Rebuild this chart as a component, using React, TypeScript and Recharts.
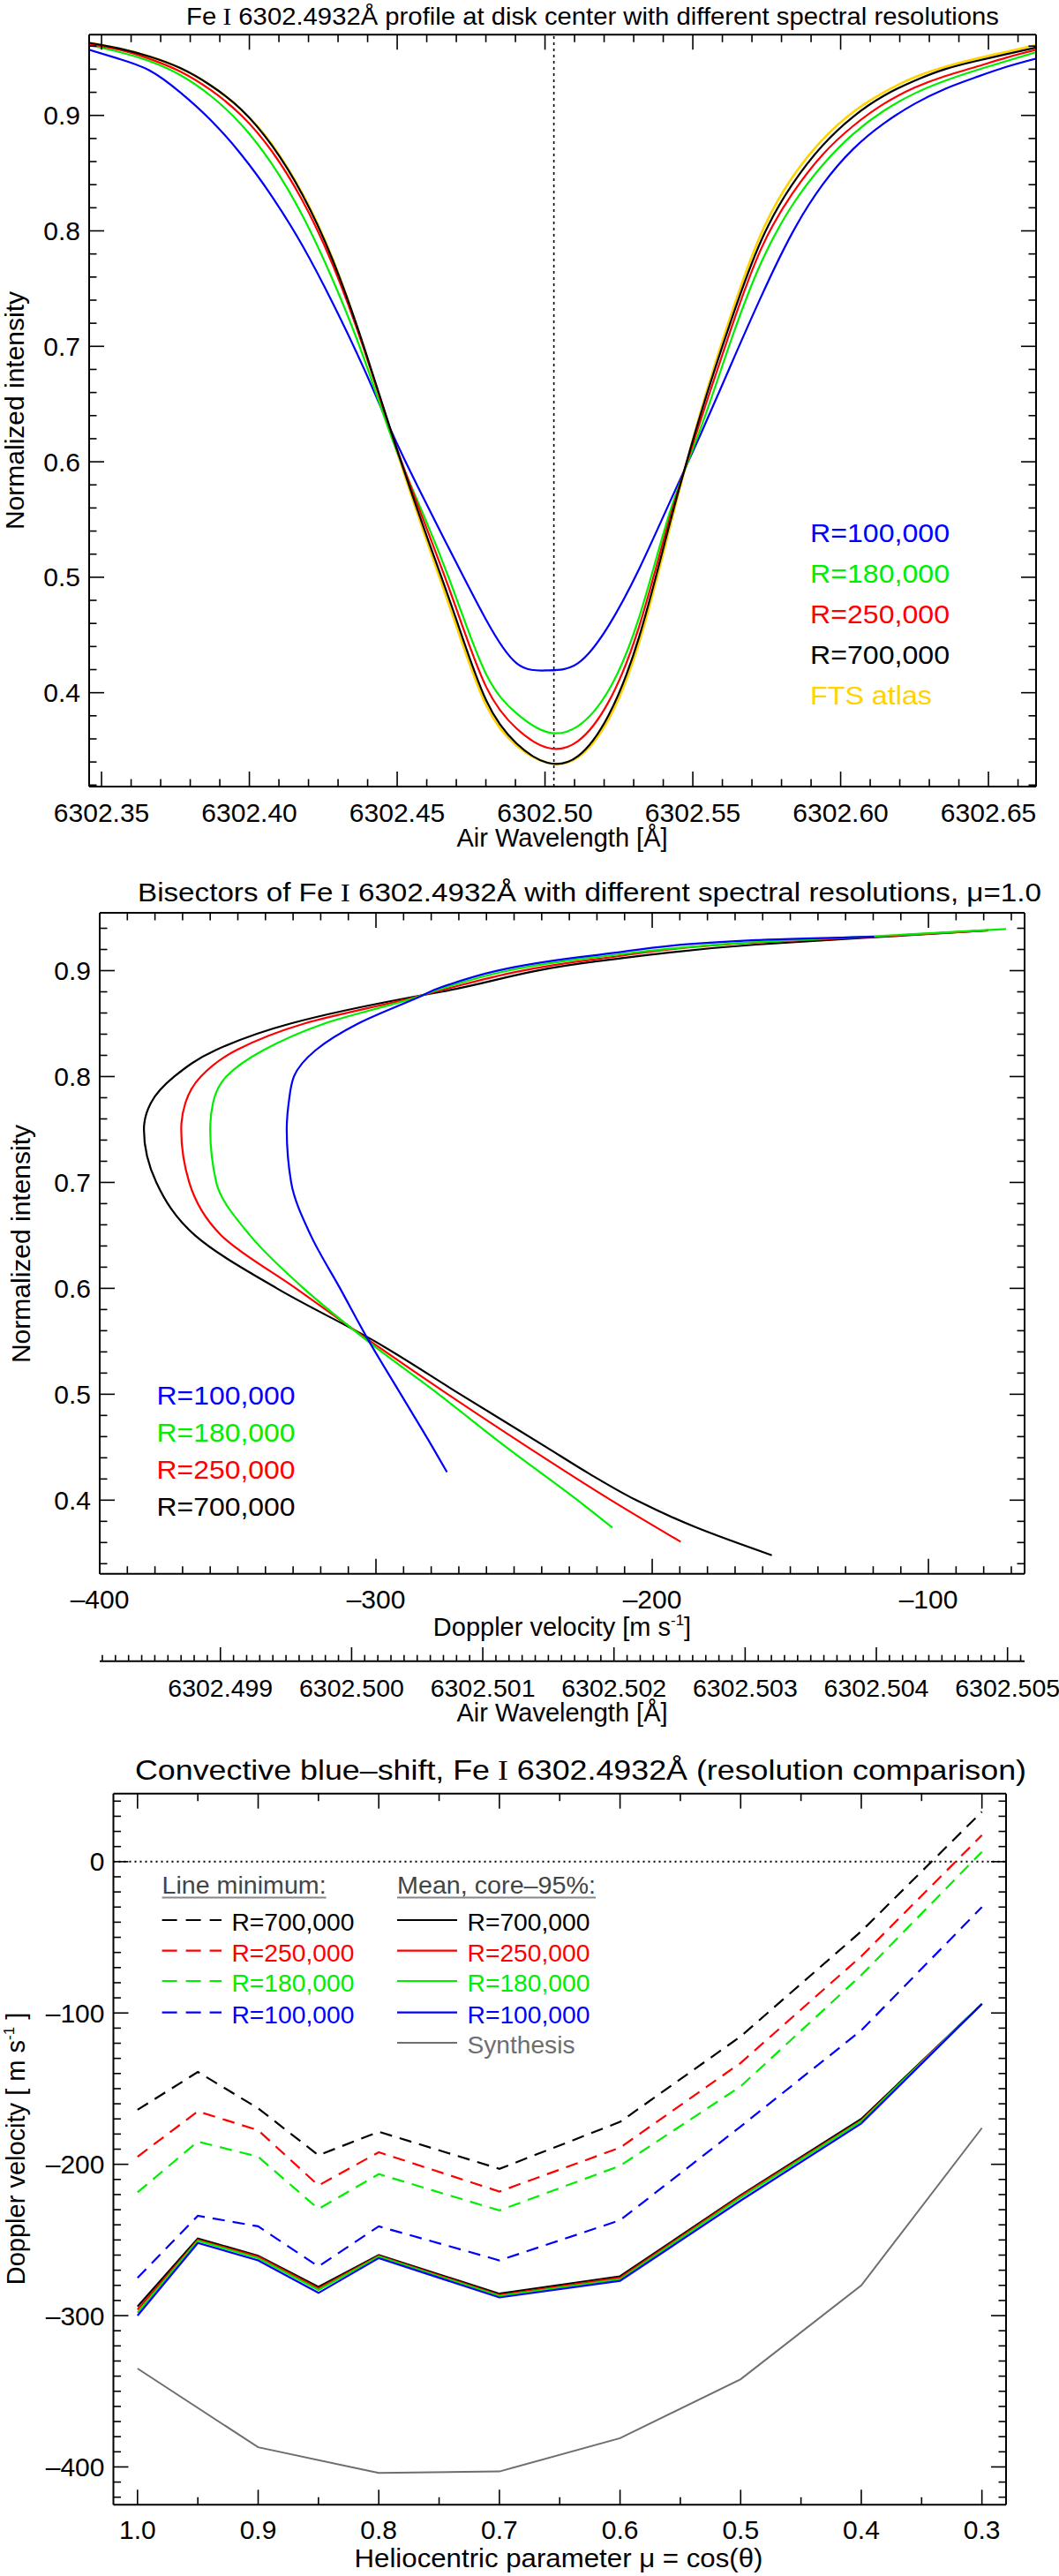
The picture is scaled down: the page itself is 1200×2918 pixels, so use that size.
import React from 'react'
import { LineChart, Line, XAxis, YAxis, ReferenceLine } from 'recharts'

const FONT = '"Liberation Sans", Arial, Helvetica, sans-serif'
const SERIF = '"Liberation Serif", "DejaVu Serif", serif'

const BLUE = '#0000ff'
const GREEN = '#00ee00'
const RED = '#ff0000'
const BLACK = '#000000'
const GOLD = '#ffd200'
const GREY = '#6e6e6e'

// ---- panel 1: line profiles at disk center
// air wavelength (Å)
const wavelength = [
  6302.3455, 6302.3559, 6302.3662, 6302.3766, 6302.3869, 6302.3973, 6302.4076, 6302.418,
  6302.4283, 6302.4387, 6302.449, 6302.4594, 6302.4697, 6302.4801, 6302.4904, 6302.5008,
  6302.5111, 6302.5215, 6302.5318, 6302.5422, 6302.5525, 6302.5629, 6302.5732, 6302.5836,
  6302.5939, 6302.6043, 6302.6146, 6302.625, 6302.6353, 6302.6457, 6302.656, 6302.6664,
]
// normalized intensity for each resolution
const intR100 = [
  0.957, 0.949, 0.939, 0.92, 0.896, 0.866, 0.83, 0.787, 0.737, 0.681, 0.621, 0.566, 0.514, 0.463,
  0.4255, 0.4193, 0.4255, 0.458, 0.507, 0.565, 0.623, 0.684, 0.7435, 0.798, 0.84, 0.871, 0.893,
  0.91, 0.923, 0.933, 0.942, 0.9494,
]
const intR180 = [
  0.961, 0.955, 0.947, 0.935, 0.917, 0.892, 0.858, 0.813, 0.757, 0.69, 0.615, 0.551, 0.484, 0.416,
  0.382, 0.3658, 0.371, 0.402, 0.465, 0.556, 0.628, 0.705, 0.773, 0.822, 0.857, 0.884, 0.904,
  0.919, 0.93, 0.939, 0.947, 0.955,
]
const intR250 = [
  0.962, 0.957, 0.949, 0.938, 0.922, 0.9, 0.869, 0.826, 0.77, 0.698, 0.618, 0.546, 0.475, 0.405,
  0.369, 0.3523, 0.358, 0.392, 0.457, 0.551, 0.635, 0.715, 0.785, 0.832, 0.866, 0.891, 0.91,
  0.924, 0.934, 0.942, 0.95, 0.957,
]
const intR700 = [
  0.963, 0.958, 0.951, 0.941, 0.926, 0.905, 0.874, 0.831, 0.774, 0.7, 0.618, 0.54, 0.4656, 0.3934,
  0.356, 0.3393, 0.345, 0.3805, 0.448, 0.5465, 0.64, 0.722, 0.792, 0.84, 0.874, 0.899, 0.917,
  0.93, 0.94, 0.947, 0.953, 0.959,
]
const intFts = [
  0.963, 0.958, 0.951, 0.941, 0.926, 0.905, 0.875, 0.832, 0.775, 0.699, 0.616, 0.536, 0.46, 0.389,
  0.354, 0.3393, 0.344, 0.377, 0.443, 0.543, 0.642, 0.727, 0.798, 0.846, 0.879, 0.903, 0.92,
  0.933, 0.942, 0.949, 0.955, 0.961,
]
const lineCenter = 6302.503

// ---- panel 2: bisectors, [doppler velocity m/s, normalized intensity]
const bisR100: [number, number][] = [
  [-274.3, 0.4265], [-279.5, 0.45], [-291, 0.5], [-302.5, 0.55], [-313, 0.6], [-323.6, 0.65],
  [-330.7, 0.7], [-332.3, 0.75], [-331.6, 0.775], [-329.7, 0.8], [-321.8, 0.825], [-306.5, 0.85],
  [-284.5, 0.875], [-276.4, 0.8843], [-219.4, 0.9149], [-162.4, 0.9288], [-119.6, 0.932],
]
const bisR180: [number, number][] = [
  [-214.4, 0.374], [-227, 0.4], [-252.8, 0.45], [-277.3, 0.5], [-302.9, 0.55], [-326.2, 0.6],
  [-345.6, 0.65], [-357.8, 0.7], [-360, 0.75], [-359, 0.775], [-354.2, 0.8], [-340.7, 0.825],
  [-318.7, 0.85], [-285.2, 0.875], [-276.4, 0.8829], [-219.4, 0.913], [-162.4, 0.927],
  [-119.6, 0.9325], [-71.9, 0.9393],
]
const bisR250: [number, number][] = [
  [-189.7, 0.3607], [-214.9, 0.4], [-245, 0.45], [-274, 0.5], [-302, 0.55], [-329, 0.6],
  [-356, 0.65], [-367.6, 0.7], [-370.5, 0.75], [-369, 0.775], [-363.4, 0.8], [-350.5, 0.825],
  [-326, 0.85], [-285.8, 0.875], [-276.4, 0.8815], [-219.4, 0.9112], [-162.4, 0.9265],
  [-119.6, 0.932], [-78.3, 0.938],
]
const bisR700: [number, number][] = [
  [-156.7, 0.348], [-184.8, 0.375], [-205.8, 0.4], [-222.8, 0.425], [-238.3, 0.45], [-269.5, 0.5],
  [-300.4, 0.55], [-335.9, 0.6], [-365.5, 0.65], [-379.5, 0.7], [-384, 0.75], [-381.5, 0.775],
  [-373, 0.8], [-358, 0.825], [-331, 0.85], [-287, 0.875], [-276.4, 0.88], [-219.4, 0.909],
  [-162.4, 0.9246], [-119.6, 0.9315], [-78.3, 0.938],
]

// ---- panel 3: convective blue-shift vs mu
const mu = [1.0, 0.95, 0.9, 0.85, 0.8, 0.7, 0.6, 0.5, 0.4, 0.3]
const minR700 = [-164, -139, -163, -194, -178.5, -203, -172, -115.5, -46, 33]
const minR250 = [-195, -165, -177.5, -214, -192, -218, -189, -133, -62.5, 17.5]
const minR180 = [-218.5, -185, -195, -229.5, -206.5, -230.5, -201, -148.5, -75, 6.5]
const minR100 = [-275, -234, -241, -267.5, -241, -263.5, -237, -175, -111.5, -30]
const meanR700 = [-294, -249, -260.5, -281, -260, -285.5, -274, -220.5, -170, -94]
const meanR250 = [-296, -250, -261, -282, -260.5, -286.5, -275, -221, -171, -94]
const meanR180 = [-298, -250.5, -262, -283, -261, -287, -276, -222, -171.5, -94]
const meanR100 = [-300, -252, -263.5, -285, -262, -288, -277, -224, -173, -94]
const synthesis = [-335, null, -387, null, -404, -403, -381, -342, -280, -176]

// tick labels
const p1XMajor = [6302.35, 6302.4, 6302.45, 6302.5, 6302.55, 6302.6, 6302.65]
const p1YMajor = [0.4, 0.5, 0.6, 0.7, 0.8, 0.9]
const p2XMajor = [-400, -300, -200, -100]
const p2WlMajor = [6302.499, 6302.5, 6302.501, 6302.502, 6302.503, 6302.504, 6302.505]
const p2YMajor = [0.4, 0.5, 0.6, 0.7, 0.8, 0.9]
const p3XMajor = [1.0, 0.9, 0.8, 0.7, 0.6, 0.5, 0.4, 0.3]
const p3YMajor = [0, -100, -200, -300, -400]

const steps = (from: number, to: number, step: number) => {
  const out: number[] = []
  const n = Math.round((to - from) / step)
  for (let i = 0; i <= n; i++) out.push(+(from + i * step).toFixed(6))
  return out
}

const toPts = (arr: [number, number][]) => arr.map(([x, y]) => ({ x, y }))
const profile = (ints: number[]) => wavelength.map((x, i) => ({ x, y: ints[i] }))

const p3Data = mu.map((m, i) => ({
  x: m,
  minR700: minR700[i],
  minR250: minR250[i],
  minR180: minR180[i],
  minR100: minR100[i],
  meanR700: meanR700[i],
  meanR250: meanR250[i],
  meanR180: meanR180[i],
  meanR100: meanR100[i],
  synthesis: synthesis[i],
}))

type Side = 'bottom' | 'top' | 'left' | 'right'

const dash = (v: number, d = 0) => (v < 0 ? '\u2013' + Math.abs(v).toFixed(d) : v.toFixed(d))

function tickMark(side: Side, majors: number[], fmt?: (v: number) => string, big = 17, small = 8.5, off = 39.5, fs = 30) {
  return (props: any) => {
    const { x, y, payload } = props
    const v = payload.value
    const major = majors.some((m) => Math.abs(m - v) < 1e-7)
    const len = major ? big : small
    let x2 = x
    let y2 = y
    if (side === 'bottom') y2 = y - len
    if (side === 'top') y2 = y + len
    if (side === 'left') x2 = x + len
    if (side === 'right') x2 = x - len
    return (
      <g>
        <line x1={x} y1={y} x2={x2} y2={y2} stroke="#000" strokeWidth={1.6} />
        {major && fmt && side === 'bottom' && (
          <text x={x} y={y + off} textAnchor="middle" fontFamily={FONT} fontSize={fs} fill="#000">
            {fmt(v)}
          </text>
        )}
        {major && fmt && side === 'left' && (
          <text x={x - 10} y={y + 10.5} textAnchor="end" fontFamily={FONT} fontSize={fs} fill="#000">
            {fmt(v)}
          </text>
        )}
      </g>
    )
  }
}

const axisBase = {
  type: 'number' as const,
  allowDataOverflow: true,
  interval: 0 as const,
  tickLine: false,
  tickSize: 0,
  tickMargin: 0,
  axisLine: { stroke: '#000', strokeWidth: 2 },
}

const lineBase = { dot: false, isAnimationActive: false, strokeWidth: 2.2 }

function ProfilePanel() {
  const xDom: [number, number] = [6302.3458, 6302.6661]
  const yDom: [number, number] = [0.3187, 0.9699]
  const xt = steps(6302.35, 6302.66, 0.01)
  const yt = steps(0.32, 0.96, 0.02)
  return (
    <LineChart width={1200} height={980} margin={{ top: 0, right: 0, bottom: 0, left: 0 }}>
      <XAxis {...axisBase} xAxisId="b" orientation="bottom" dataKey="x" height={89} domain={xDom} ticks={xt}
        tick={tickMark('bottom', p1XMajor, (v) => v.toFixed(2), 17, 8.5, 40)} />
      <XAxis {...axisBase} xAxisId="t" orientation="top" dataKey="x" height={39.3} domain={xDom} ticks={xt}
        tick={tickMark('top', p1XMajor)} />
      <YAxis {...axisBase} yAxisId="l" orientation="left" width={101} domain={yDom} ticks={yt}
        tick={tickMark('left', p1YMajor, (v) => v.toFixed(1))} />
      <YAxis {...axisBase} yAxisId="r" orientation="right" width={26} domain={yDom} ticks={yt}
        tick={tickMark('right', p1YMajor)} />
      <ReferenceLine xAxisId="b" yAxisId="l" x={lineCenter} stroke="#000" strokeWidth={1.6} strokeDasharray="3 4" />
      <Line {...lineBase} xAxisId="t" yAxisId="r" type="natural" data={profile(intFts)} dataKey="y" stroke={GOLD} strokeWidth={2.6} />
      <Line {...lineBase} xAxisId="b" yAxisId="l" type="natural" data={profile(intR100)} dataKey="y" stroke={BLUE} />
      <Line {...lineBase} xAxisId="b" yAxisId="l" type="natural" data={profile(intR180)} dataKey="y" stroke={GREEN} />
      <Line {...lineBase} xAxisId="b" yAxisId="l" type="natural" data={profile(intR250)} dataKey="y" stroke={RED} />
      <Line {...lineBase} xAxisId="b" yAxisId="l" type="natural" data={profile(intR700)} dataKey="y" stroke={BLACK} />
    </LineChart>
  )
}

function BisectorPanel() {
  const xDom: [number, number] = [-400, -65.2]
  const wlDom: [number, number] = [6302.49808, 6302.50513]
  const yDom: [number, number] = [0.3305, 0.9546]
  const xt = steps(-400, -70, 10)
  const wt = steps(6302.4981, 6302.5051, 0.0001)
  const yt = steps(0.34, 0.94, 0.02)
  return (
    <LineChart width={1200} height={960} margin={{ top: 0, right: 0, bottom: 0, left: 0 }}>
      <XAxis {...axisBase} xAxisId="b" orientation="bottom" dataKey="x" height={99} domain={xDom} ticks={xt}
        tick={tickMark('bottom', p2XMajor, (v) => dash(v), 17, 8.5, 39.5)} />
      <XAxis {...axisBase} xAxisId="wl" orientation="bottom" dataKey="x" height={78.3} domain={wlDom} ticks={wt}
        tick={tickMark('bottom', p2WlMajor, (v) => v.toFixed(3), 15.7, 7, 40, 28.5)} />
      <XAxis {...axisBase} xAxisId="t" orientation="top" dataKey="x" height={34} domain={xDom} ticks={xt}
        tick={tickMark('top', p2XMajor)} />
      <YAxis {...axisBase} yAxisId="l" orientation="left" width={113} domain={yDom} ticks={yt}
        tick={tickMark('left', p2YMajor, (v) => v.toFixed(1))} />
      <YAxis {...axisBase} yAxisId="r" orientation="right" width={39} domain={yDom} ticks={yt}
        tick={tickMark('right', p2YMajor)} />
      <Line {...lineBase} xAxisId="t" yAxisId="r" type="monotoneY" data={toPts(bisR700)} dataKey="y" stroke={BLACK} />
      <Line {...lineBase} xAxisId="b" yAxisId="l" type="monotoneY" data={toPts(bisR250)} dataKey="y" stroke={RED} />
      <Line {...lineBase} xAxisId="b" yAxisId="l" type="monotoneY" data={toPts(bisR180)} dataKey="y" stroke={GREEN} />
      <Line {...lineBase} xAxisId="b" yAxisId="l" type="monotoneY" data={toPts(bisR100)} dataKey="y" stroke={BLUE} />
    </LineChart>
  )
}

function ShiftPanel() {
  const xDom: [number, number] = [0.28, 1.02]
  const yDom: [number, number] = [-425, 45]
  const xt = steps(0.3, 1.0, 0.05)
  const yt = steps(-420, 40, 10)
  const dashed = '14 9'
  return (
    <LineChart width={1200} height={958} data={p3Data} margin={{ top: 0, right: 0, bottom: 0, left: 0 }}>
      <XAxis {...axisBase} xAxisId="b" orientation="bottom" dataKey="x" reversed height={80.7} domain={xDom} ticks={xt}
        tick={tickMark('bottom', p3XMajor, (v) => v.toFixed(1), 17, 8.5, 39)} />
      <XAxis {...axisBase} xAxisId="t" orientation="top" dataKey="x" reversed height={71.7} domain={xDom} ticks={xt}
        tick={tickMark('top', p3XMajor)} />
      <YAxis {...axisBase} yAxisId="l" orientation="left" width={128.5} domain={yDom} ticks={yt}
        tick={tickMark('left', p3YMajor, (v) => dash(v))} />
      <YAxis {...axisBase} yAxisId="r" orientation="right" width={60} domain={yDom} ticks={yt}
        tick={tickMark('right', p3YMajor)} />
      <ReferenceLine xAxisId="b" yAxisId="l" y={0} stroke="#000" strokeWidth={2} strokeDasharray="2 4" />
      <Line {...lineBase} xAxisId="t" yAxisId="r" type="linear" dataKey="synthesis" stroke={GREY} strokeWidth={2} connectNulls />
      <Line {...lineBase} xAxisId="b" yAxisId="l" type="linear" dataKey="minR700" stroke={BLACK} strokeDasharray={dashed} />
      <Line {...lineBase} xAxisId="b" yAxisId="l" type="linear" dataKey="minR250" stroke={RED} strokeDasharray={dashed} />
      <Line {...lineBase} xAxisId="b" yAxisId="l" type="linear" dataKey="minR180" stroke={GREEN} strokeDasharray={dashed} />
      <Line {...lineBase} xAxisId="b" yAxisId="l" type="linear" dataKey="minR100" stroke={BLUE} strokeDasharray={dashed} />
      <Line {...lineBase} xAxisId="b" yAxisId="l" type="linear" dataKey="meanR700" stroke={BLACK} />
      <Line {...lineBase} xAxisId="b" yAxisId="l" type="linear" dataKey="meanR250" stroke={RED} />
      <Line {...lineBase} xAxisId="b" yAxisId="l" type="linear" dataKey="meanR180" stroke={GREEN} />
      <Line {...lineBase} xAxisId="b" yAxisId="l" type="linear" dataKey="meanR100" stroke={BLUE} />
    </LineChart>
  )
}

const legend1 = [
  { label: 'R=100,000', color: BLUE },
  { label: 'R=180,000', color: GREEN },
  { label: 'R=250,000', color: RED },
  { label: 'R=700,000', color: BLACK },
  { label: 'FTS atlas', color: GOLD },
]
const legend2 = legend1.slice(0, 4)
const legend3 = [
  { label: 'R=700,000', color: BLACK },
  { label: 'R=250,000', color: RED },
  { label: 'R=180,000', color: GREEN },
  { label: 'R=100,000', color: BLUE },
]

function Overlay() {
  const t = { fontFamily: FONT, fill: '#000' }
  const rowsY = [2187, 2221.7, 2256, 2291.7]
  return (
    <svg width={1200} height={2918} style={{ position: 'absolute', left: 0, top: 0, pointerEvents: 'none' }}>
      {/* panel 1 */}
      <text {...t} x={211} y={27.5} fontSize={28} textLength={921} lengthAdjust="spacingAndGlyphs">
        Fe<tspan fontFamily={SERIF}> I</tspan> 6302.4932Å profile at disk center with different spectral resolutions
      </text>
      <text {...t} x={27} y={465} fontSize={30} textAnchor="middle" transform="rotate(-90 27 465)">
        Normalized intensity
      </text>
      <text {...t} x={637} y={959} fontSize={29} textAnchor="middle">Air Wavelength [Å]</text>
      {legend1.map((l, i) => (
        <text key={l.label} x={918} y={614 + i * 46} fontFamily={FONT} fontSize={30} fill={l.color}
          textLength={l.label === 'FTS atlas' ? 138 : 158} lengthAdjust="spacingAndGlyphs">
          {l.label}
        </text>
      ))}

      {/* panel 2 */}
      <text {...t} x={156} y={1021} fontSize={29} textLength={1024} lengthAdjust="spacingAndGlyphs">
        Bisectors of Fe<tspan fontFamily={SERIF}> I</tspan> 6302.4932Å with different spectral resolutions, μ=1.0
      </text>
      <text {...t} x={34} y={1409} fontSize={30} textAnchor="middle" transform="rotate(-90 34 1409)">
        Normalized intensity
      </text>
      <text {...t} x={637} y={1853} fontSize={29} textAnchor="middle">
        Doppler velocity [m s<tspan fontSize={17} dy={-12}>-1</tspan><tspan dy={12}>]</tspan>
      </text>
      <text {...t} x={637} y={1950} fontSize={29} textAnchor="middle">Air Wavelength [Å]</text>
      {legend2.map((l, i) => (
        <text key={l.label} x={177.5} y={1591 + i * 42} fontFamily={FONT} fontSize={30} fill={l.color}
          textLength={157} lengthAdjust="spacingAndGlyphs">
          {l.label}
        </text>
      ))}

      {/* panel 3 */}
      <text {...t} x={153} y={2016} fontSize={32} textLength={1010} lengthAdjust="spacingAndGlyphs">
        Convective blue–shift, Fe<tspan fontFamily={SERIF}> I</tspan> 6302.4932Å (resolution comparison)
      </text>
      <text {...t} x={28} y={2434} fontSize={29} textAnchor="middle" transform="rotate(-90 28 2434)">
        Doppler velocity [ m s<tspan fontSize={17} dy={-12}>-1</tspan><tspan dy={12}> ]</tspan>
      </text>
      <text {...t} x={633} y={2908} fontSize={30} textAnchor="middle" textLength={463} lengthAdjust="spacingAndGlyphs">
        Heliocentric parameter μ = cos(θ)
      </text>

      <text x={183.6} y={2145} fontFamily={FONT} fontSize={28} fill="#444" textLength={186} lengthAdjust="spacingAndGlyphs">
        Line minimum:
      </text>
      <line x1={183.6} x2={369.6} y1={2149.5} y2={2149.5} stroke="#888" strokeWidth={2} />
      <text x={450} y={2145} fontFamily={FONT} fontSize={28} fill="#444" textLength={225} lengthAdjust="spacingAndGlyphs">
        Mean, core–95%:
      </text>
      <line x1={450} x2={675} y1={2149.5} y2={2149.5} stroke="#888" strokeWidth={2} />
      {legend3.map((l, i) => (
        <g key={l.label}>
          <line x1={183.6} x2={251} y1={rowsY[i] - 12} y2={rowsY[i] - 12} stroke={l.color} strokeWidth={2.2} strokeDasharray="17 10" />
          <text x={262.4} y={rowsY[i]} fontFamily={FONT} fontSize={28} fill={l.color} textLength={139} lengthAdjust="spacingAndGlyphs">
            {l.label}
          </text>
          <line x1={450} x2={518} y1={rowsY[i] - 12} y2={rowsY[i] - 12} stroke={l.color} strokeWidth={2.2} />
          <text x={529.5} y={rowsY[i]} fontFamily={FONT} fontSize={28} fill={l.color} textLength={139} lengthAdjust="spacingAndGlyphs">
            {l.label}
          </text>
        </g>
      ))}
      <line x1={450} x2={518} y1={2314} y2={2314} stroke={GREY} strokeWidth={2.2} />
      <text x={529.5} y={2326} fontFamily={FONT} fontSize={28} fill={GREY} textLength={122} lengthAdjust="spacingAndGlyphs">
        Synthesis
      </text>
    </svg>
  )
}

export default function App() {
  return (
    <div style={{ position: 'absolute', left: 0, top: 0, width: 1200, height: 2918, background: '#fff', fontFamily: FONT }}>
      <div style={{ position: 'absolute', left: 0, top: 0 }}>
        <ProfilePanel />
      </div>
      <div style={{ position: 'absolute', left: 0, top: 1000 }}>
        <BisectorPanel />
      </div>
      <div style={{ position: 'absolute', left: 0, top: 1960 }}>
        <ShiftPanel />
      </div>
      <Overlay />
    </div>
  )
}
